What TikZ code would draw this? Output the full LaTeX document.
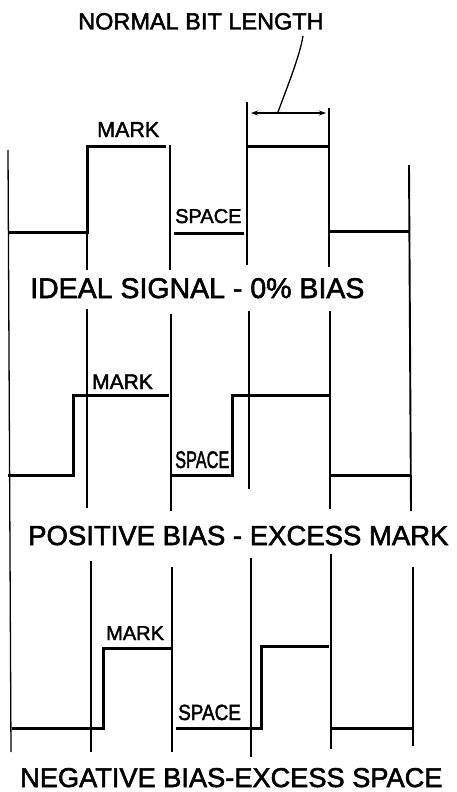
\documentclass[tikz,border=0pt]{standalone}
\usepackage{fontspec}
\setmainfont{Liberation Sans}[FakeBold=2]
\usepackage{graphicx}
\usepackage{tikz}
\usetikzlibrary{positioning,arrows.meta}
\tikzset{
  caption/.style={anchor=base west,inner sep=0pt,font=\fontsize{28.5}{30}\selectfont},
  tag/.style={anchor=base west,inner sep=0pt,font=\fontsize{#1}{#1}\selectfont},
  tag/.default=21,
  grid/.style={line width=1.9pt},
  thingrid/.style={line width=1.3pt},
  signal/.style={line width=3pt,line join=miter},
  dimarrow/.style={{Stealth[length=7pt,width=5pt]}-{Stealth[length=7pt,width=5pt]},line width=1.4pt}
}

\begin{document}
\begin{tikzpicture}[x=1pt,y=-1pt]
\useasboundingbox (0,0) rectangle (457,792);

% outer bit boundaries
\draw[thingrid] (8,150) -- (11,752);
\draw[grid] (409,165) -- (411,511);
\draw[grid] (413,567) -- (413,746);

% ideal signal
\foreach \x/\a/\b in {87/146/270,170/145/270,247/102/265,329/108/267}
  \draw[grid] (\x,\a) -- (\x,\b);
\draw[signal] (8,232) -- (87,232) -- (87,146) -- (166,146);
\draw[signal] (174,233) -- (244,233);
\draw[signal] (247,146) -- (329,146);
\draw[signal] (329,231) -- (409,231);

% positive bias
\foreach \x/\a/\b in {87/309/508,171/314/511,249/311/489,330/311/509}
  \draw[grid] (\x,\a) -- (\x,\b);
\draw[signal] (8,475) -- (73,475) -- (73,395) -- (169,395);
\draw[signal] (171,475) -- (232,475) -- (232,395) -- (330,395);
\draw[signal] (330,475) -- (411,475);

% negative bias
\foreach \x/\a/\b in {91/561/752,172/567/752,251/558/757,331/554/749}
  \draw[grid] (\x,\a) -- (\x,\b);
\draw[signal] (12,728) -- (103,728) -- (103,648) -- (171,648);
\draw[signal] (176,728) -- (261,728) -- (261,646) -- (329,646);
\draw[signal] (332,728) -- (414,728);

% bit length
\node[tag=23.5] (bitlen) at (78,29.5) {NORMAL BIT LENGTH};
\coordinate (dimL) at (251,113);
\coordinate (dimR) at (326,113);
\coordinate (leadtop) at (303,36);
\coordinate (leadend) at (278,112);
\draw[dimarrow] (dimL) -- (dimR);
\draw[line width=1.3pt] (leadtop) .. controls (300,55) and (288,85) .. (leadend);

% labels
\node[tag=21.5] (mark1) at (97,137) {MARK};
\node[tag=20] (space1) at (175,223) {SPACE};
\node[caption] (ideal) at (30,298) {IDEAL SIGNAL - 0\% BIAS};

\node[tag=21] (mark2) at (92,389) {MARK};
\node[tag=24] (space2) at (175,468) {\scalebox{0.68}[1]{SPACE}};
\node[caption,font=\fontsize{27.5}{30}\selectfont] (positive) at (28,545) {POSITIVE BIAS - EXCESS MARK};

\node[tag=20] (mark3) at (106,640) {MARK};
\node[tag=22] (space3) at (178,720) {\scalebox{0.86}[1]{SPACE}};
\node[caption,font=\fontsize{27.2}{30}\selectfont] (negative) at (20,787) {NEGATIVE BIAS-EXCESS SPACE};

\end{tikzpicture}
\end{document}
